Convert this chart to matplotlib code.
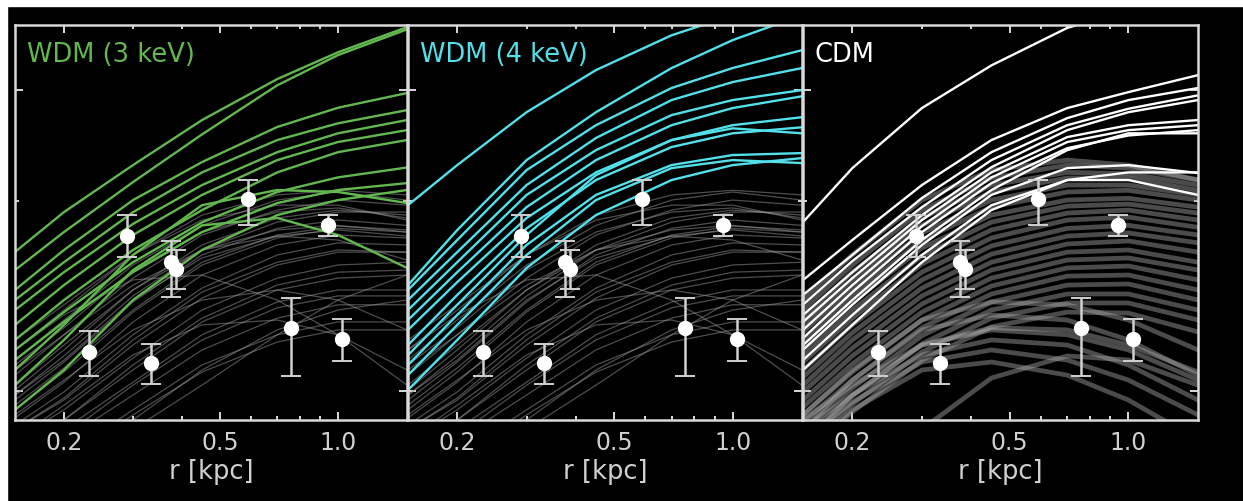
import matplotlib.pyplot as plt
from matplotlib.patches import Rectangle
from matplotlib.ticker import FixedLocator, FixedFormatter, NullFormatter

# radii (kpc) at which every circular velocity curve is tabulated
r = [0.15, 0.2, 0.3, 0.45, 0.7, 1.0, 1.5]

# 12 most massive subhaloes, Vcirc in km/s
wdm3_curves = [
    [16.61, 19.21, 22.8, 26.87, 31.2, 34.4, 37.7],
    [15.55, 17.86, 21.43, 25.5, 30.5, 34.05, 37.4],
    [14.46, 16.73, 20.07, 23.05, 26.2, 28.1, 29.65],
    [13.94, 16.0, 19.2, 22.2, 24.98, 26.55, 27.86],
    [13.44, 15.43, 18.4, 21.2, 23.9, 25.6, 26.87],
    [12.73, 14.72, 17.67, 20.45, 23.22, 24.8, 25.9],
    [12.05, 13.94, 16.73, 19.35, 22.2, 23.9, 24.98],
    [11.62, 13.34, 16.0, 18.5, 20.67, 21.8, 22.6],
    [11.2, 12.87, 15.43, 17.86, 19.85, 20.82, 21.35],
    [10.8, 12.73, 16.43, 19.7, 20.82, 20.67, 19.85],
    [10.22, 12.05, 15.55, 18.3, 18.8, 17.67, 15.67],
    [9.34, 10.8, 13.94, 16.73, 19.0, 20.07, 20.82],
]

wdm4_curves = [
    [19.7, 22.8, 27.65, 32.24, 36.6, 39.4, 41.6],
    [14.72, 17.99, 23.22, 27.65, 32.48, 35.96, 39.4],
    [14.46, 17.35, 22.39, 26.37, 30.2, 32.48, 34.67],
    [13.94, 16.6, 21.2, 25.17, 28.9, 30.86, 32.48],
    [13.44, 16.0, 20.45, 24.08, 27.36, 28.9, 29.97],
    [12.96, 15.43, 19.56, 23.22, 26.37, 28.07, 29.3],
    [12.5, 14.88, 18.8, 22.2, 24.98, 26.37, 27.15],
    [11.83, 14.2, 18.1, 21.59, 24.35, 25.6, 26.17],
    [11.4, 13.7, 17.67, 21.98, 24.98, 26.07, 25.6],
    [11.0, 13.2, 17.04, 20.45, 22.8, 23.65, 23.82],
    [10.6, 12.73, 16.43, 20.07, 22.55, 23.22, 22.97],
    [10.04, 12.05, 15.67, 19.0, 21.59, 22.8, 23.39],
]

cdm_curves = [
    [18.52, 22.55, 28.07, 32.8, 37.6, 40.1, 43.1],
    [14.99, 17.35, 21.2, 24.98, 28.07, 29.75, 31.65],
    [14.2, 16.43, 20.22, 23.9, 27.06, 28.9, 30.2],
    [13.7, 16.07, 19.56, 23.22, 26.37, 28.0, 29.4],
    [13.2, 15.43, 19.0, 22.63, 25.9, 27.65, 28.9],
    [12.87, 15.1, 18.66, 22.2, 25.25, 26.37, 26.87],
    [12.5, 14.72, 18.25, 21.8, 24.8, 25.9, 26.37],
    [12.13, 14.35, 17.86, 21.35, 24.25, 25.4, 25.9],
    [11.83, 13.94, 17.35, 20.82, 24.08, 25.6, 25.6],
    [11.62, 13.7, 17.04, 20.45, 22.55, 22.8, 22.15],
    [11.2, 13.2, 16.43, 19.7, 21.59, 21.59, 20.45],
    [10.8, 12.73, 16.0, 19.35, 21.59, 22.2, 22.2],
]

# remaining subhaloes of the WDM runs
wdm_grey = [
    [11.2, 12.96, 15.84, 18.3, 20.07, 20.67, 20.07],
    [10.6, 12.28, 15.1, 17.67, 19.35, 20.07, 19.7],
    [10.04, 11.62, 14.46, 17.04, 18.8, 19.35, 19.0],
    [9.68, 11.12, 13.84, 16.43, 18.1, 18.66, 18.3],
    [9.34, 10.72, 13.34, 15.84, 17.48, 18.1, 17.86],
    [9.07, 10.33, 12.87, 15.27, 17.04, 17.67, 17.48],
    [8.84, 9.97, 12.28, 14.56, 16.43, 17.17, 17.04],
    [8.7, 9.68, 11.83, 14.04, 15.84, 16.6, 16.6],
    [8.37, 9.34, 11.28, 13.44, 15.1, 15.84, 16.0],
    [8.22, 9.0, 10.8, 12.87, 14.46, 15.1, 15.27],
    [7.91, 8.7, 10.33, 12.28, 13.84, 14.46, 14.46],
    [7.47, 8.37, 9.86, 11.62, 13.05, 13.7, 13.7],
    [7.19, 7.91, 9.34, 11.0, 12.28, 12.87, 12.87],
    [11.62, 13.2, 15.0, 15.27, 13.94, 12.28, 10.22],
    [6.18, 7.19, 8.7, 10.22, 12.28, 13.94, 15.27],
    [6.67, 7.47, 9.0, 10.8, 12.5, 13.44, 13.94],
    [12.05, 13.7, 16.43, 18.66, 19.7, 19.7, 18.66],
    [11.62, 13.44, 16.43, 19.0, 20.45, 20.8, 20.45],
    [11.0, 12.6, 15.55, 17.86, 19.21, 19.5, 18.8],
    [9.86, 11.37, 14.15, 16.73, 18.52, 19.21, 19.21],
    [8.7, 9.75, 12.05, 14.35, 16.0, 16.73, 16.6],
    [8.06, 9.0, 11.0, 13.05, 14.72, 15.43, 15.55],
    [7.6, 8.5, 10.22, 12.05, 13.55, 14.15, 14.15],
    [6.92, 7.7, 9.17, 10.72, 11.96, 12.5, 12.5],
    [10.22, 11.83, 14.46, 16.73, 18.0, 18.3, 17.86],
    [9.5, 10.88, 13.44, 16.0, 17.67, 18.25, 18.0],
    [9.17, 10.41, 12.5, 13.94, 14.46, 13.94, 12.5],
    [8.37, 9.5, 11.41, 12.73, 12.96, 12.28, 10.8],
    [10.8, 12.28, 14.72, 16.73, 17.6, 17.35, 16.13],
    [9.86, 11.2, 13.94, 16.25, 17.6, 18.0, 17.6],
]

# remaining subhaloes of the CDM run
cdm_grey = [
    [13.94, 16.43, 20.07, 22.39, 23.22, 22.8, 21.6],
    [13.44, 15.84, 19.35, 21.75, 22.8, 22.55, 21.6],
    [13.05, 15.43, 18.8, 21.2, 22.2, 22.1, 21.2],
    [12.73, 15.0, 18.3, 20.67, 21.75, 21.75, 20.8],
    [12.41, 14.56, 17.8, 20.07, 21.2, 21.2, 20.45],
    [12.05, 14.2, 17.35, 19.56, 20.67, 20.8, 20.07],
    [11.7, 13.84, 16.85, 19.0, 20.07, 20.2, 19.56],
    [11.41, 13.44, 16.37, 18.52, 19.63, 19.78, 19.14],
    [11.12, 13.05, 15.9, 18.0, 19.14, 19.35, 18.66],
    [10.8, 12.73, 15.43, 17.48, 18.66, 18.86, 18.17],
    [10.52, 12.37, 15.0, 16.98, 18.1, 18.3, 17.67],
    [10.22, 12.05, 14.56, 16.48, 17.6, 17.8, 17.17],
    [9.97, 11.7, 14.15, 16.0, 17.1, 17.29, 16.6],
    [9.68, 11.37, 13.74, 15.55, 16.6, 16.73, 16.0],
    [9.44, 11.04, 13.34, 15.1, 16.13, 16.25, 15.55],
    [9.17, 10.72, 12.96, 14.67, 15.67, 15.78, 15.0],
    [8.94, 10.41, 12.6, 14.25, 15.21, 15.27, 14.46],
    [8.7, 10.11, 12.24, 13.84, 14.72, 14.78, 13.94],
    [8.45, 9.83, 11.88, 13.44, 14.25, 14.25, 13.44],
    [8.19, 9.54, 11.53, 13.05, 13.79, 13.79, 12.96],
    [7.94, 9.27, 11.2, 12.64, 13.34, 13.29, 12.41],
    [9.0, 10.22, 11.83, 12.5, 12.28, 11.62, 10.41],
    [8.7, 9.86, 11.41, 12.05, 11.83, 11.0, 9.68],
    [8.37, 9.61, 11.12, 11.62, 11.2, 10.41, 9.17],
    [8.06, 9.34, 10.8, 11.12, 10.6, 9.68, 8.37],
    [8.7, 10.41, 12.5, 13.2, 12.96, 12.05, 10.6],
    [8.22, 9.86, 11.83, 12.6, 12.5, 11.83, 10.72],
    [9.17, 10.8, 12.96, 13.84, 13.7, 12.96, 11.62],
    [4.75, 5.73, 8.7, 10.49, 11.37, 11.2, 10.22],
]

# dwarf spheroidals: Vcirc at the half-light radius
obs_r = [0.232, 0.290, 0.333, 0.375, 0.386, 0.590, 0.759, 0.943, 1.024]
obs_v = [11.53, 17.6, 11.08, 16.02, 15.61, 20.15, 12.59, 18.33, 12.09]
obs_lo = [10.56, 16.3, 10.26, 14.09, 14.5, 18.3, 10.56, 17.6, 11.16]
obs_hi = [12.45, 19.0, 11.87, 17.29, 16.7, 21.6, 14.04, 19.0, 13.0]

panels = [
    ('WDM (3 keV)', wdm3_curves, wdm_grey, '#62b84f'),
    ('WDM (4 keV)', wdm4_curves, wdm_grey, '#52e0ea'),
    ('CDM', cdm_curves, cdm_grey, '#ffffff'),
]

W, H = 1243, 501
fig = plt.figure(figsize=(W / 100, H / 100), dpi=100, facecolor='black')
fig.patches.append(Rectangle((0, 1 - 6 / H), 1, 6 / H, transform=fig.transFigure,
                             color='white', zorder=-5))
fig.patches.append(Rectangle((0, 0), 7 / W, 1, transform=fig.transFigure,
                             color='white', zorder=-5))

lefts = [15, 408, 803]
widths = [392, 394, 395]
spine_col = '#d9d9d9'
text_col = '#d0d0d0'

for (title, curves, grey, col), left, width in zip(panels, lefts, widths):
    ax = fig.add_axes([left / W, 81 / H, width / W, 395 / H])
    ax.set_facecolor('black')
    ax.set_xscale('log')
    ax.set_yscale('log')

    if title == 'CDM':
        for v in grey:
            ax.plot(r, v, color='#a8a8a8', lw=3.4, alpha=0.45)
    else:
        for v in grey:
            ax.plot(r, v, color='#9a9a9a', lw=0.9, alpha=0.5)
    for v in curves:
        ax.plot(r, v, color=col, lw=1.7)

    yerr = [[v - lo for v, lo in zip(obs_v, obs_lo)],
            [hi - v for v, hi in zip(obs_v, obs_hi)]]
    ax.errorbar(obs_r, obs_v, yerr=yerr, fmt='o', color='white', ms=10,
                ecolor='#d0d0d0', elinewidth=1.8, capsize=7, capthick=1.4,
                zorder=10)

    ax.set_xlim(0.15, 1.5)
    ax.set_ylim(9, 38)
    ax.xaxis.set_major_locator(FixedLocator([0.2, 0.5, 1.0]))
    ax.xaxis.set_major_formatter(FixedFormatter(['0.2', '0.5', '1.0']))
    ax.xaxis.set_minor_locator(FixedLocator([0.3, 0.4, 0.6, 0.7, 0.8, 0.9]))
    ax.xaxis.set_minor_formatter(NullFormatter())
    ax.yaxis.set_major_locator(FixedLocator([10, 30]))
    ax.yaxis.set_minor_locator(FixedLocator([20]))
    ax.yaxis.set_major_formatter(NullFormatter())
    ax.yaxis.set_minor_formatter(NullFormatter())
    ax.tick_params(which='both', direction='in', top=True, right=True,
                   colors=spine_col, labelcolor=text_col, width=1.4,
                   labelsize=17, pad=8)
    ax.tick_params(which='major', length=6)
    ax.tick_params(which='minor', length=3)
    for s in ax.spines.values():
        s.set_color(spine_col)
        s.set_linewidth(1.8)

    ax.set_xlabel('r [kpc]', color=text_col, fontsize=18.5, labelpad=3)
    ax.text(0.03, 0.924, title, transform=ax.transAxes, color=col,
            fontsize=18.5, ha='left', va='center')

fig.savefig('out.png', dpi=100, facecolor=fig.get_facecolor())
